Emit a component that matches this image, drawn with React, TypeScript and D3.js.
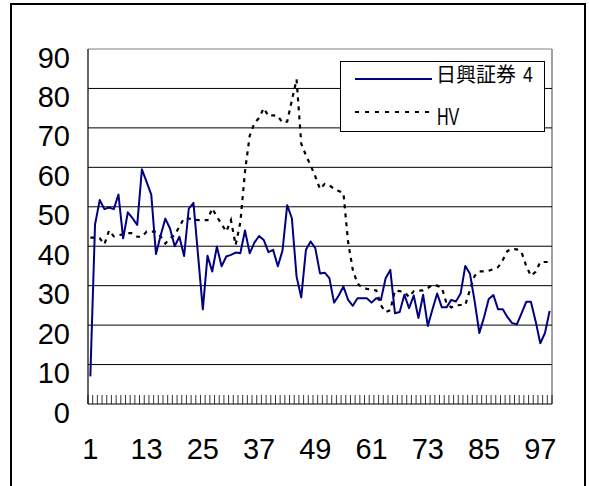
import React from 'react';
import * as d3 from 'd3';

const categories: number[] = d3.range(1, 100);

const nikko: number[] = [
  7, 45.5, 51.7, 49.4, 49.8, 49.4, 53.1, 42, 48.6, 47.1,
  45.4, 59.5, 56.3, 53.1, 38, 42.7, 47, 44.5, 40, 42.4,
  37.5, 49.5, 51, 37.5, 24, 37.6, 33.6, 39.9, 34.9, 37.4,
  37.8, 38.4, 38.2, 44, 38.2, 40.9, 42.6, 41.6, 38.5, 39.1,
  34.9, 38.9, 50.4, 47.1, 32.3, 27, 39.1, 41.2, 39.5, 33.1,
  33.3, 31.9, 25.7, 27.5, 29.8, 26.4, 24.9, 26.8, 26.8, 26.8,
  25.7, 26.8, 26.4, 31.9, 34, 23, 23.3, 27.7, 24.3, 27.5,
  21.8, 27.7, 19.8, 24, 28, 24.5, 24.5, 26.4, 26, 28,
  35, 33, 26, 18, 22, 26.6, 27.6, 24, 24, 22,
  20.5, 20.2, 23, 25.9, 25.9, 21, 15.4, 18, 23.6,
];

const hv: number[] = [
  42.2, 42.2, 42, 40.5, 44, 42.5, 42.8, 43, 43.3, 43.3,
  42.4, 42.4, 43.7, 43.7, 43.7, 42.5, 40.7, 42, 42.8, 45,
  47.1, 47, 46.8, 46.6, 46.6, 46.6, 49.6, 47.5, 45.6, 43.7,
  46.6, 40.3, 46, 59, 68, 71.2, 72.5, 75, 73, 73.2,
  73, 71.3, 71.6, 77, 82.3, 66, 63, 60.5, 57.7, 54.5,
  55.8, 55.5, 54.5, 54, 53.5, 41, 34, 30.5, 29.5, 29.2,
  29, 28.8, 25, 23.3, 23.8, 28.8, 28.6, 28.4, 27.1, 28.6,
  28.7, 28.8, 29.4, 30.2, 30, 29.5, 25.5, 24.5, 25, 25.1,
  25.1, 29, 32.5, 33.6, 33.6, 33.8, 34.2, 34.7, 36.5, 38.8,
  39.3, 39.2, 38.5, 35, 32.5, 33.5, 36, 36, 36,
];

const xTickLabels: number[] = [1, 13, 25, 37, 49, 61, 73, 85, 97];
const yTickValues: number[] = [0, 10, 20, 30, 40, 50, 60, 70, 80, 90];
const seriesNames: string[] = ['日興証券', '4', 'HV'];

export default function App() {
  const W = 589;
  const H = 486;
  const left = 88;
  const right = 552;
  const top = 49;
  const bottom = 404;

  const x = d3.scaleBand<number>().domain(categories).range([left, right]).padding(0);
  const cx = (c: number) => (x(c) as number) + x.bandwidth() / 2;
  const y = d3.scaleLinear().domain([0, 90]).range([bottom, top]);

  const lineGen = d3
    .line<number>()
    .x((_, i) => cx(categories[i]))
    .y((d) => y(d));

  const blue = '#000080';
  const numFont = '"Liberation Sans", Arial, sans-serif';
  const cjkFont = '"Noto Sans CJK JP", "Noto Sans", sans-serif';

  const boundaries = d3.range(0, categories.length + 1).map((k) => left + k * x.step());

  return (
    <svg
      width={W}
      height={H}
      style={{ position: 'absolute', left: 0, top: 0, background: '#fff' }}
    >
      <rect x={0} y={0} width={W} height={H} fill="#fff" />
      {/* outer frame */}
      <rect x={11} y={4} width={574} height={492} fill="none" stroke="#000" strokeWidth={2} />

      {/* plot border */}
      <line x1={left} x2={right} y1={top} y2={top} stroke="#808080" strokeWidth={1} />
      <line x1={right} x2={right} y1={top} y2={bottom} stroke="#808080" strokeWidth={1.5} />

      {/* gridlines */}
      {yTickValues
        .filter((v) => v > 0 && v < 90)
        .map((v) => (
          <line key={'g' + v} x1={left} x2={right} y1={y(v)} y2={y(v)} stroke="#000" strokeWidth={1} />
        ))}

      {/* axes */}
      <line x1={left} x2={left} y1={top} y2={bottom} stroke="#000" strokeWidth={1.2} />
      <line x1={left} x2={right} y1={bottom} y2={bottom} stroke="#000" strokeWidth={1.2} />
      {boundaries.map((bx, k) => (
        <line key={'t' + k} x1={bx} x2={bx} y1={bottom} y2={bottom - 9} stroke="#000" strokeWidth={0.8} />
      ))}

      {/* y labels */}
      {yTickValues.map((v) => (
        <text
          key={'yl' + v}
          x={70}
          y={y(v) + 18.5}
          textAnchor="end"
          fontFamily={numFont}
          fontSize={29}
          fill="#000"
        >
          {v}
        </text>
      ))}

      {/* x labels */}
      {xTickLabels.map((c) => (
        <text
          key={'xl' + c}
          x={cx(c)}
          y={459}
          textAnchor="middle"
          fontFamily={numFont}
          fontSize={29}
          fill="#000"
        >
          {c}
        </text>
      ))}

      {/* series */}
      <path d={lineGen(hv) || ''} fill="none" stroke="#000" strokeWidth={2.2} strokeDasharray="4,5" />
      <path d={lineGen(nikko) || ''} fill="none" stroke={blue} strokeWidth={2} strokeLinejoin="round" />

      {/* legend */}
      <rect x={340.5} y={61.5} width={204} height={70} fill="#fff" stroke="#000" strokeWidth={1} />
      <line x1={355} x2={432} y1={79} y2={79} stroke={blue} strokeWidth={2} />
      <text x={436} y={81.5} fontSize={20} fontFamily={cjkFont} fill="#000">
        {seriesNames[0]}
      </text>
      <text transform="translate(523,81.5) scale(0.8,1)" fontSize={22} fontFamily={numFont} fill="#000">
        {seriesNames[1]}
      </text>
      <line x1={355} x2={432} y1={112} y2={112} stroke="#000" strokeWidth={2} strokeDasharray="4,6" />
      <text transform="translate(437,125) scale(0.7,1)" fontFamily={numFont} fontSize={23} fill="#000">
        {seriesNames[2]}
      </text>
    </svg>
  );
}
